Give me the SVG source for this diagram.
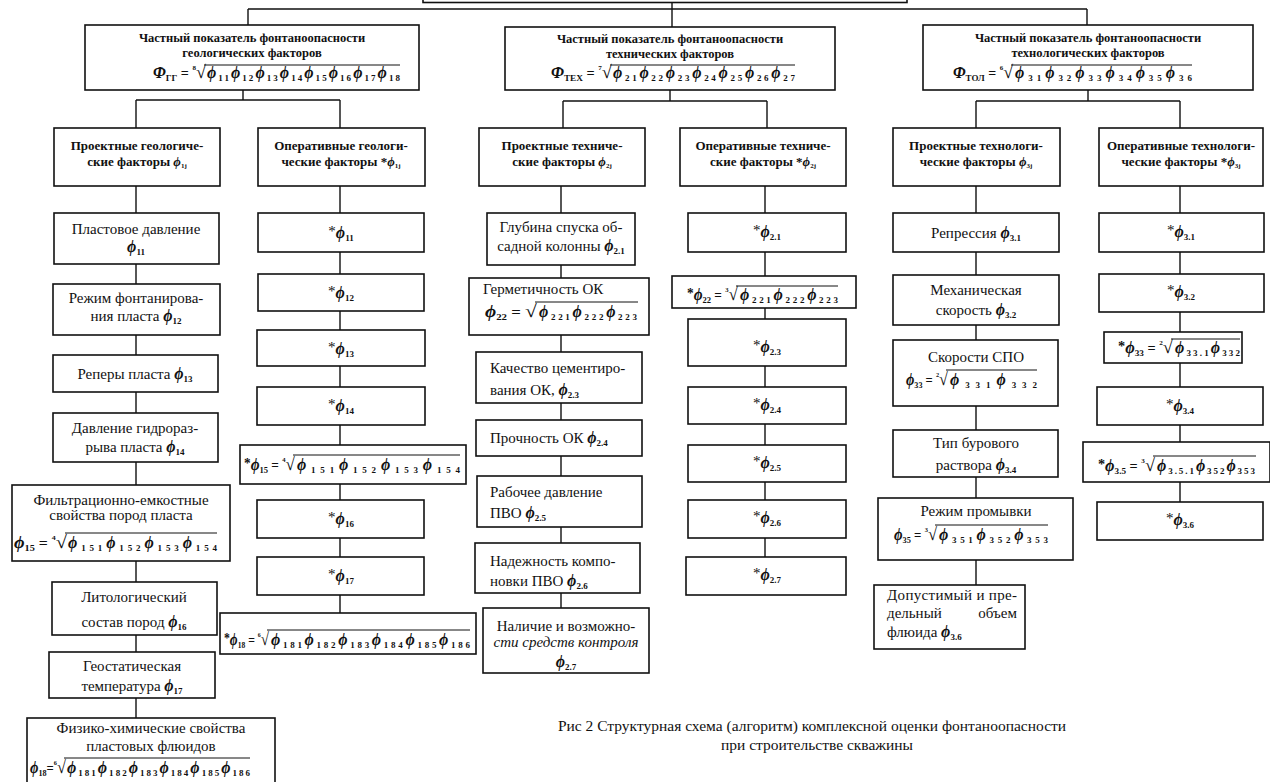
<svg xmlns="http://www.w3.org/2000/svg" width="1270" height="782" viewBox="0 0 1270 782">
<style>
text { font-family: "Liberation Serif", "Times New Roman", serif; fill: #111; }
.box { fill: #fff; stroke: #111; stroke-width: 1.6; }
.conn { stroke: #111; stroke-width: 1.4; fill: none; }
.ov { stroke: #111; stroke-width: 1; }
.t { font-size: 15px; }
.hd { font-size: 13px; font-weight: bold; }
.th { font-size: 12.5px; font-weight: bold; }
.ph { font-style: italic; font-weight: bold; font-size: 16px; }
.hph { font-style: italic; font-weight: bold; font-size: 13px; }
.bph { font-style: italic; font-weight: bold; font-size: 16px; }
.sb { font-size: 9px; font-weight: bold; }
.hsb { font-size: 7px; font-weight: bold; }
.f { font-size: 14px; font-weight: bold; }
.ix { font-size: 7px; font-weight: bold; }
.rt { font-size: 18px; font-weight: normal; }
.it { font-style: italic; }
.cap { font-size: 15.5px; }
</style>

<g id="connectors">
  <path class="conn" d="M672,3 V27 M248,9 H1087 M248,9 V25 M1087,9 V25"/>
  <path class="conn" d="M243,90 V100 M136,100 H340 M136,100 V128 M340,100 V128"/>
  <path class="conn" d="M136,186 V213 M136,264 V284 M136,335 V355 M136,392 V413 M136,462 V485 M136,561 V582 M136,635 V652 M136,698 V718"/>
  <path class="conn" d="M340,186 V213 M340,252 V274 M340,311 V330 M340,366 V387 M340,425 V445 M340,484 V500 M340,538 V557 M340,595 V613"/>
  <path class="conn" d="M670,90 V101 M563,101 H767 M563,101 V128 M767,101 V128"/>
  <path class="conn" d="M561,186 V213 M561,265 V278 M561,335 V352 M561,403 V420 M561,456 V476 M561,527 V543 M561,593 V608"/>
  <path class="conn" d="M765,186 V213 M765,252 V276 M765,308 V319 M765,366 V387 M765,424 V445 M765,482 V500 M765,538 V557"/>
  <path class="conn" d="M1088,90 V101 M976,101 H1180 M976,101 V128 M1180,101 V128"/>
  <path class="conn" d="M976,186 V213 M976,252 V275 M976,325 V340 M976,406 V430 M976,477 V498 M976,560 V585"/>
  <path class="conn" d="M1180,186 V213 M1180,252 V274 M1180,312 V332 M1180,363 V387 M1180,425 V442 M1180,482 V502"/>
</g>

<g id="root"><rect class="box" x="423" y="-20" width="484" height="22.5" stroke-width="2.5"/></g>

<!-- Top level boxes -->
<g id="geo-top">
  <rect class="box" x="85" y="25" width="334" height="65"/>
  <text class="th" x="252" y="42" text-anchor="middle">Частный показатель фонтаноопасности</text>
  <text class="th" x="252" y="57" text-anchor="middle">геологических факторов</text>
  <text class="f" x="153" y="78" textLength="53" lengthAdjust="spacingAndGlyphs"><tspan class="bph">Φ</tspan><tspan class="sb" dy="3">ГГ</tspan><tspan dy="-3"> = </tspan><tspan class="ix" dy="-8">8</tspan><tspan class="rt" dy="8">√</tspan></text>
  <text class="f" x="207" y="78" textLength="193" lengthAdjust="spacing"><tspan class="ph">ϕ</tspan><tspan class="sb" dy="3">11</tspan><tspan class="ph" dy="-3">ϕ</tspan><tspan class="sb" dy="3">12</tspan><tspan class="ph" dy="-3">ϕ</tspan><tspan class="sb" dy="3">13</tspan><tspan class="ph" dy="-3">ϕ</tspan><tspan class="sb" dy="3">14</tspan><tspan class="ph" dy="-3">ϕ</tspan><tspan class="sb" dy="3">15</tspan><tspan class="ph" dy="-3">ϕ</tspan><tspan class="sb" dy="3">16</tspan><tspan class="ph" dy="-3">ϕ</tspan><tspan class="sb" dy="3">17</tspan><tspan class="ph" dy="-3">ϕ</tspan><tspan class="sb" dy="3">18</tspan></text>
  <line class="ov" x1="204" y1="65" x2="400" y2="65"/>
</g>

<g id="tech-top">
  <rect class="box" x="505" y="27" width="330" height="63"/>
  <text class="th" x="670" y="43" text-anchor="middle">Частный показатель фонтаноопасности</text>
  <text class="th" x="670" y="58" text-anchor="middle">технических факторов</text>
  <text class="f" x="551" y="78" textLength="61" lengthAdjust="spacingAndGlyphs"><tspan class="bph">Φ</tspan><tspan class="sb" dy="3">ТЕХ</tspan><tspan dy="-3"> = </tspan><tspan class="ix" dy="-8">7</tspan><tspan class="rt" dy="8">√</tspan></text>
  <text class="f" x="613" y="78" textLength="182" lengthAdjust="spacing"><tspan class="ph">ϕ</tspan><tspan class="sb" dy="3">21</tspan><tspan class="ph" dy="-3">ϕ</tspan><tspan class="sb" dy="3">22</tspan><tspan class="ph" dy="-3">ϕ</tspan><tspan class="sb" dy="3">23</tspan><tspan class="ph" dy="-3">ϕ</tspan><tspan class="sb" dy="3">24</tspan><tspan class="ph" dy="-3">ϕ</tspan><tspan class="sb" dy="3">25</tspan><tspan class="ph" dy="-3">ϕ</tspan><tspan class="sb" dy="3">26</tspan><tspan class="ph" dy="-3">ϕ</tspan><tspan class="sb" dy="3">27</tspan></text>
  <line class="ov" x1="610" y1="65" x2="795" y2="65"/>
</g>

<g id="technol-top">
  <rect class="box" x="923" y="25" width="330" height="65"/>
  <text class="th" x="1088" y="42" text-anchor="middle">Частный показатель фонтаноопасности</text>
  <text class="th" x="1088" y="57" text-anchor="middle">технологических факторов</text>
  <text class="f" x="953" y="78" textLength="60" lengthAdjust="spacingAndGlyphs"><tspan class="bph">Φ</tspan><tspan class="sb" dy="3">ТОЛ</tspan><tspan dy="-3"> = </tspan><tspan class="ix" dy="-8">6</tspan><tspan class="rt" dy="8">√</tspan></text>
  <text class="f" x="1015" y="78" textLength="177" lengthAdjust="spacing"><tspan class="ph">ϕ</tspan><tspan class="sb" dy="3">31</tspan><tspan class="ph" dy="-3">ϕ</tspan><tspan class="sb" dy="3">32</tspan><tspan class="ph" dy="-3">ϕ</tspan><tspan class="sb" dy="3">33</tspan><tspan class="ph" dy="-3">ϕ</tspan><tspan class="sb" dy="3">34</tspan><tspan class="ph" dy="-3">ϕ</tspan><tspan class="sb" dy="3">35</tspan><tspan class="ph" dy="-3">ϕ</tspan><tspan class="sb" dy="3">36</tspan></text>
  <line class="ov" x1="1011" y1="65" x2="1192" y2="65"/>
</g>

<!-- Category boxes -->
<g id="geo-proj-head">
  <rect class="box" x="54" y="128" width="166" height="58"/>
  <text class="hd" x="137" y="150" text-anchor="middle">Проектные геологиче-</text>
  <text class="hd" x="137" y="166" text-anchor="middle">ские факторы <tspan class="hph">ϕ</tspan><tspan class="hsb" dy="2">1j</tspan></text>
</g>
<g id="geo-oper-head">
  <rect class="box" x="258" y="128" width="167" height="58"/>
  <text class="hd" x="341" y="150" text-anchor="middle">Оперативные геологи-</text>
  <text class="hd" x="341" y="166" text-anchor="middle">ческие факторы *<tspan class="hph">ϕ</tspan><tspan class="hsb" dy="2">1j</tspan></text>
</g>
<g id="tech-proj-head">
  <rect class="box" x="479" y="128" width="166" height="58"/>
  <text class="hd" x="562" y="150" text-anchor="middle">Проектные техниче-</text>
  <text class="hd" x="562" y="166" text-anchor="middle">ские факторы <tspan class="hph">ϕ</tspan><tspan class="hsb" dy="2">2j</tspan></text>
</g>
<g id="tech-oper-head">
  <rect class="box" x="680" y="128" width="166" height="58"/>
  <text class="hd" x="763" y="150" text-anchor="middle">Оперативные техниче-</text>
  <text class="hd" x="763" y="166" text-anchor="middle">ские факторы *<tspan class="hph">ϕ</tspan><tspan class="hsb" dy="2">2j</tspan></text>
</g>
<g id="technol-proj-head">
  <rect class="box" x="893" y="128" width="167" height="58"/>
  <text class="hd" x="976" y="150" text-anchor="middle">Проектные технологи-</text>
  <text class="hd" x="976" y="166" text-anchor="middle">ческие факторы <tspan class="hph">ϕ</tspan><tspan class="hsb" dy="2">3j</tspan></text>
</g>
<g id="technol-oper-head">
  <rect class="box" x="1099" y="128" width="164" height="58"/>
  <text class="hd" x="1181" y="150" text-anchor="middle">Оперативные технологи-</text>
  <text class="hd" x="1181" y="166" text-anchor="middle">ческие факторы *<tspan class="hph">ϕ</tspan><tspan class="hsb" dy="2">3j</tspan></text>
</g>

<!-- Geological project column -->
<g id="g11">
  <rect class="box" x="54" y="213" width="165" height="51"/>
  <text class="t" x="136" y="234" text-anchor="middle">Пластовое давление</text>
  <text class="t" x="136" y="252" text-anchor="middle"><tspan class="ph">ϕ</tspan><tspan class="sb" dy="3">11</tspan></text>
</g>
<g id="g12">
  <rect class="box" x="53" y="284" width="167" height="51"/>
  <text class="t" x="136" y="303" text-anchor="middle">Режим фонтанирова-</text>
  <text class="t" x="136" y="321" text-anchor="middle">ния пласта <tspan class="ph">ϕ</tspan><tspan class="sb" dy="3">12</tspan></text>
</g>
<g id="g13">
  <rect class="box" x="53" y="355" width="165" height="37"/>
  <text class="t" x="135" y="379" text-anchor="middle">Реперы пласта <tspan class="ph">ϕ</tspan><tspan class="sb" dy="3">13</tspan></text>
</g>
<g id="g14">
  <rect class="box" x="53" y="413" width="165" height="49"/>
  <text class="t" x="135" y="433" text-anchor="middle">Давление гидрораз-</text>
  <text class="t" x="135" y="452" text-anchor="middle">рыва пласта <tspan class="ph">ϕ</tspan><tspan class="sb" dy="3">14</tspan></text>
</g>
<g id="g15">
  <rect class="box" x="12" y="485" width="218" height="76"/>
  <text class="t" x="121" y="505" text-anchor="middle">Фильтрационно-емкостные</text>
  <text class="t" x="121" y="520" text-anchor="middle">свойства пород пласта</text>
  <text class="f" x="14" y="548" textLength="53" lengthAdjust="spacingAndGlyphs"><tspan class="ph">ϕ</tspan><tspan class="sb" dy="3">15</tspan><tspan dy="-3"> = </tspan><tspan class="ix" dy="-8">4</tspan><tspan class="rt" dy="8">√</tspan></text>
  <text class="f" x="68" y="548" textLength="149" lengthAdjust="spacing"><tspan class="ph">ϕ</tspan><tspan class="sb" dy="3">151</tspan><tspan class="ph" dy="-3">ϕ</tspan><tspan class="sb" dy="3">152</tspan><tspan class="ph" dy="-3">ϕ</tspan><tspan class="sb" dy="3">153</tspan><tspan class="ph" dy="-3">ϕ</tspan><tspan class="sb" dy="3">154</tspan></text>
  <line class="ov" x1="65" y1="533" x2="217" y2="533"/>
</g>
<g id="g16">
  <rect class="box" x="52" y="582" width="165" height="53"/>
  <text class="t" x="134" y="602" text-anchor="middle">Литологический</text>
  <text class="t" x="134" y="627" text-anchor="middle">состав пород <tspan class="ph">ϕ</tspan><tspan class="sb" dy="3">16</tspan></text>
</g>
<g id="g17">
  <rect class="box" x="49" y="652" width="166" height="46"/>
  <text class="t" x="132" y="671" text-anchor="middle">Геостатическая</text>
  <text class="t" x="132" y="691" text-anchor="middle">температура <tspan class="ph">ϕ</tspan><tspan class="sb" dy="3">17</tspan></text>
</g>
<g id="g18">
  <rect class="box" x="27" y="718" width="248" height="66"/>
  <text class="t" x="151" y="733" text-anchor="middle">Физико-химические свойства</text>
  <text class="t" x="151" y="751" text-anchor="middle">пластовых флюидов</text>
  <text class="f" x="30" y="773" textLength="36" lengthAdjust="spacingAndGlyphs"><tspan class="ph">ϕ</tspan><tspan class="sb" dy="3">18</tspan><tspan dy="-3">=</tspan><tspan class="ix" dy="-8">6</tspan><tspan class="rt" dy="8">√</tspan></text>
  <text class="f" x="67" y="773" textLength="183" lengthAdjust="spacing"><tspan class="ph">ϕ</tspan><tspan class="sb" dy="3">181</tspan><tspan class="ph" dy="-3">ϕ</tspan><tspan class="sb" dy="3">182</tspan><tspan class="ph" dy="-3">ϕ</tspan><tspan class="sb" dy="3">183</tspan><tspan class="ph" dy="-3">ϕ</tspan><tspan class="sb" dy="3">184</tspan><tspan class="ph" dy="-3">ϕ</tspan><tspan class="sb" dy="3">185</tspan><tspan class="ph" dy="-3">ϕ</tspan><tspan class="sb" dy="3">186</tspan></text>
  <line class="ov" x1="64" y1="758" x2="250" y2="758"/>
</g>

<!-- Geological operative column -->
<g id="og11"><rect class="box" x="258" y="213" width="166" height="39"/>
  <text class="t" x="341" y="238" text-anchor="middle"><tspan dy="-2">*</tspan><tspan class="ph" dy="2">ϕ</tspan><tspan class="sb" dy="3">11</tspan></text></g>
<g id="og12"><rect class="box" x="258" y="274" width="166" height="37"/>
  <text class="t" x="341" y="298" text-anchor="middle"><tspan dy="-2">*</tspan><tspan class="ph" dy="2">ϕ</tspan><tspan class="sb" dy="3">12</tspan></text></g>
<g id="og13"><rect class="box" x="257" y="330" width="168" height="36"/>
  <text class="t" x="341" y="354" text-anchor="middle"><tspan dy="-2">*</tspan><tspan class="ph" dy="2">ϕ</tspan><tspan class="sb" dy="3">13</tspan></text></g>
<g id="og14"><rect class="box" x="257" y="387" width="168" height="38"/>
  <text class="t" x="341" y="411" text-anchor="middle"><tspan dy="-2">*</tspan><tspan class="ph" dy="2">ϕ</tspan><tspan class="sb" dy="3">14</tspan></text></g>
<g id="og15"><rect class="box" x="240" y="445" width="226" height="39"/>
  <text class="f" x="244" y="470" textLength="51" lengthAdjust="spacingAndGlyphs"><tspan dy="-2">*</tspan><tspan class="ph" dy="2">ϕ</tspan><tspan class="sb" dy="3">15</tspan><tspan dy="-3"> = </tspan><tspan class="ix" dy="-8">4</tspan><tspan class="rt" dy="8">√</tspan></text>
  <text class="f" x="297" y="470" textLength="163" lengthAdjust="spacing"><tspan class="ph">ϕ</tspan><tspan class="sb" dy="3">151</tspan><tspan class="ph" dy="-3">ϕ</tspan><tspan class="sb" dy="3">152</tspan><tspan class="ph" dy="-3">ϕ</tspan><tspan class="sb" dy="3">153</tspan><tspan class="ph" dy="-3">ϕ</tspan><tspan class="sb" dy="3">154</tspan></text>
  <line class="ov" x1="293" y1="455" x2="460" y2="455"/></g>
<g id="og16"><rect class="box" x="257" y="500" width="167" height="38"/>
  <text class="t" x="341" y="524" text-anchor="middle"><tspan dy="-2">*</tspan><tspan class="ph" dy="2">ϕ</tspan><tspan class="sb" dy="3">16</tspan></text></g>
<g id="og17"><rect class="box" x="257" y="557" width="167" height="38"/>
  <text class="t" x="341" y="581" text-anchor="middle"><tspan dy="-2">*</tspan><tspan class="ph" dy="2">ϕ</tspan><tspan class="sb" dy="3">17</tspan></text></g>
<g id="og18"><rect class="box" x="220" y="613" width="256" height="41"/>
  <text class="f" x="224" y="645" textLength="45" lengthAdjust="spacingAndGlyphs"><tspan dy="-2">*</tspan><tspan class="ph" dy="2">ϕ</tspan><tspan class="sb" dy="3">18</tspan><tspan dy="-3"> = </tspan><tspan class="ix" dy="-8">6</tspan><tspan class="rt" dy="8">√</tspan></text>
  <text class="f" x="271" y="645" textLength="199" lengthAdjust="spacing"><tspan class="ph">ϕ</tspan><tspan class="sb" dy="3">181</tspan><tspan class="ph" dy="-3">ϕ</tspan><tspan class="sb" dy="3">182</tspan><tspan class="ph" dy="-3">ϕ</tspan><tspan class="sb" dy="3">183</tspan><tspan class="ph" dy="-3">ϕ</tspan><tspan class="sb" dy="3">184</tspan><tspan class="ph" dy="-3">ϕ</tspan><tspan class="sb" dy="3">185</tspan><tspan class="ph" dy="-3">ϕ</tspan><tspan class="sb" dy="3">186</tspan></text>
  <line class="ov" x1="267" y1="630" x2="470" y2="630"/></g>

<!-- Technical project column -->
<g id="t21"><rect class="box" x="487" y="213" width="148" height="52"/>
  <text class="t" x="561" y="232" text-anchor="middle">Глубина спуска об-</text>
  <text class="t" x="561" y="251" text-anchor="middle">садной колонны <tspan class="ph">ϕ</tspan><tspan class="sb" dy="3">2.1</tspan></text></g>
<g id="t22"><rect class="box" x="469" y="278" width="180" height="57"/>
  <text class="t" x="483" y="294">Герметичность ОК</text>
  <text class="f" x="485" y="317" textLength="52" lengthAdjust="spacingAndGlyphs"><tspan class="ph">ϕ</tspan><tspan class="sb" dy="3">22</tspan><tspan dy="-3"> = </tspan><tspan class="rt">√</tspan></text>
  <text class="f" x="539" y="317" textLength="98" lengthAdjust="spacing"><tspan class="ph">ϕ</tspan><tspan class="sb" dy="3">221</tspan><tspan class="ph" dy="-3">ϕ</tspan><tspan class="sb" dy="3">222</tspan><tspan class="ph" dy="-3">ϕ</tspan><tspan class="sb" dy="3">223</tspan></text>
  <line class="ov" x1="535" y1="302" x2="638" y2="302"/></g>
<g id="t23"><rect class="box" x="476" y="352" width="166" height="51"/>
  <text class="t" x="490" y="373">Качество цементиро-</text>
  <text class="t" x="490" y="395">вания ОК, <tspan class="ph">ϕ</tspan><tspan class="sb" dy="3">2.3</tspan></text></g>
<g id="t24"><rect class="box" x="476" y="420" width="166" height="36"/>
  <text class="t" x="490" y="443">Прочность ОК <tspan class="ph">ϕ</tspan><tspan class="sb" dy="3">2.4</tspan></text></g>
<g id="t25"><rect class="box" x="477" y="476" width="165" height="51"/>
  <text class="t" x="490" y="497">Рабочее давление</text>
  <text class="t" x="490" y="518">ПВО <tspan class="ph">ϕ</tspan><tspan class="sb" dy="3">2.5</tspan></text></g>
<g id="t26"><rect class="box" x="475" y="543" width="165" height="50"/>
  <text class="t" x="490" y="566">Надежность компо-</text>
  <text class="t" x="490" y="586">новки ПВО <tspan class="ph">ϕ</tspan><tspan class="sb" dy="3">2.6</tspan></text></g>
<g id="t27"><rect class="box" x="483" y="608" width="166" height="65"/>
  <text class="t" x="566" y="631" text-anchor="middle">Наличие и возможно-</text>
  <text class="t it" x="566" y="647" text-anchor="middle">сти средств контроля</text>
  <text class="t" x="566" y="667" text-anchor="middle"><tspan class="ph">ϕ</tspan><tspan class="sb" dy="3">2.7</tspan></text></g>

<!-- Technical operative column -->
<g id="ot21"><rect class="box" x="688" y="213" width="158" height="39"/>
  <text class="t" x="767" y="237" text-anchor="middle"><tspan dy="-2">*</tspan><tspan class="ph" dy="2">ϕ</tspan><tspan class="sb" dy="3">2.1</tspan></text></g>
<g id="ot22"><rect class="box" x="672" y="276" width="184" height="32"/>
  <text class="f" x="687" y="300" textLength="51" lengthAdjust="spacingAndGlyphs"><tspan dy="-2">*</tspan><tspan class="ph" dy="2">ϕ</tspan><tspan class="sb" dy="3">22</tspan><tspan dy="-3"> = </tspan><tspan class="ix" dy="-8">3</tspan><tspan class="rt" dy="8">√</tspan></text>
  <text class="f" x="740" y="300" textLength="98" lengthAdjust="spacing"><tspan class="ph">ϕ</tspan><tspan class="sb" dy="3">221</tspan><tspan class="ph" dy="-3">ϕ</tspan><tspan class="sb" dy="3">222</tspan><tspan class="ph" dy="-3">ϕ</tspan><tspan class="sb" dy="3">223</tspan></text>
  <line class="ov" x1="736" y1="286" x2="838" y2="286"/></g>
<g id="ot23"><rect class="box" x="688" y="319" width="158" height="47"/>
  <text class="t" x="767" y="352" text-anchor="middle"><tspan dy="-2">*</tspan><tspan class="ph" dy="2">ϕ</tspan><tspan class="sb" dy="3">2.3</tspan></text></g>
<g id="ot24"><rect class="box" x="688" y="387" width="158" height="37"/>
  <text class="t" x="767" y="410" text-anchor="middle"><tspan dy="-2">*</tspan><tspan class="ph" dy="2">ϕ</tspan><tspan class="sb" dy="3">2.4</tspan></text></g>
<g id="ot25"><rect class="box" x="688" y="445" width="158" height="37"/>
  <text class="t" x="767" y="468" text-anchor="middle"><tspan dy="-2">*</tspan><tspan class="ph" dy="2">ϕ</tspan><tspan class="sb" dy="3">2.5</tspan></text></g>
<g id="ot26"><rect class="box" x="688" y="500" width="158" height="38"/>
  <text class="t" x="767" y="523" text-anchor="middle"><tspan dy="-2">*</tspan><tspan class="ph" dy="2">ϕ</tspan><tspan class="sb" dy="3">2.6</tspan></text></g>
<g id="ot27"><rect class="box" x="686" y="557" width="160" height="38"/>
  <text class="t" x="767" y="580" text-anchor="middle"><tspan dy="-2">*</tspan><tspan class="ph" dy="2">ϕ</tspan><tspan class="sb" dy="3">2.7</tspan></text></g>

<!-- Technological project column -->
<g id="p31"><rect class="box" x="893" y="213" width="166" height="39"/>
  <text class="t" x="976" y="238" text-anchor="middle">Репрессия <tspan class="ph">ϕ</tspan><tspan class="sb" dy="3">3.1</tspan></text></g>
<g id="p32"><rect class="box" x="893" y="275" width="166" height="50"/>
  <text class="t" x="976" y="295" text-anchor="middle">Механическая</text>
  <text class="t" x="976" y="315" text-anchor="middle">скорость <tspan class="ph">ϕ</tspan><tspan class="sb" dy="3">3.2</tspan></text></g>
<g id="p33"><rect class="box" x="893" y="340" width="165" height="66"/>
  <text class="t" x="976" y="362" text-anchor="middle">Скорости СПО</text>
  <text class="f" x="906" y="385" textLength="42" lengthAdjust="spacingAndGlyphs"><tspan class="ph">ϕ</tspan><tspan class="sb" dy="3">33</tspan><tspan dy="-3"> = </tspan><tspan class="ix" dy="-8">2</tspan><tspan class="rt" dy="8">√</tspan></text>
  <text class="f" x="950" y="385" textLength="87" lengthAdjust="spacing"><tspan class="ph">ϕ</tspan><tspan class="sb" dy="3">331</tspan><tspan class="ph" dy="-3">ϕ</tspan><tspan class="sb" dy="3">332</tspan></text>
  <line class="ov" x1="946" y1="370" x2="1037" y2="370"/></g>
<g id="p34"><rect class="box" x="893" y="430" width="165" height="47"/>
  <text class="t" x="976" y="448" text-anchor="middle">Тип бурового</text>
  <text class="t" x="976" y="470" text-anchor="middle">раствора <tspan class="ph">ϕ</tspan><tspan class="sb" dy="3">3.4</tspan></text></g>
<g id="p35"><rect class="box" x="878" y="498" width="195" height="62"/>
  <text class="t" x="976" y="516" text-anchor="middle">Режим промывки</text>
  <text class="f" x="894" y="540" textLength="43" lengthAdjust="spacingAndGlyphs"><tspan class="ph">ϕ</tspan><tspan class="sb" dy="3">35</tspan><tspan dy="-3"> = </tspan><tspan class="ix" dy="-8">3</tspan><tspan class="rt" dy="8">√</tspan></text>
  <text class="f" x="939" y="540" textLength="109" lengthAdjust="spacing"><tspan class="ph">ϕ</tspan><tspan class="sb" dy="3">351</tspan><tspan class="ph" dy="-3">ϕ</tspan><tspan class="sb" dy="3">352</tspan><tspan class="ph" dy="-3">ϕ</tspan><tspan class="sb" dy="3">353</tspan></text>
  <line class="ov" x1="935" y1="525" x2="1048" y2="525"/></g>
<g id="p36"><rect class="box" x="874" y="585" width="151" height="64"/>
  <text class="t" x="887" y="600" textLength="130" lengthAdjust="spacing">Допустимый и пре-</text>
  <text class="t" x="887" y="618">дельный</text>
  <text class="t" x="1017" y="618" text-anchor="end">объем</text>
  <text class="t" x="887" y="637">флюида <tspan class="ph">ϕ</tspan><tspan class="sb" dy="3">3.6</tspan></text></g>

<!-- Technological operative column -->
<g id="o31"><rect class="box" x="1099" y="213" width="165" height="39"/>
  <text class="t" x="1181" y="237" text-anchor="middle"><tspan dy="-2">*</tspan><tspan class="ph" dy="2">ϕ</tspan><tspan class="sb" dy="3">3.1</tspan></text></g>
<g id="o32"><rect class="box" x="1099" y="274" width="165" height="38"/>
  <text class="t" x="1181" y="297" text-anchor="middle"><tspan dy="-2">*</tspan><tspan class="ph" dy="2">ϕ</tspan><tspan class="sb" dy="3">3.2</tspan></text></g>
<g id="o33"><rect class="box" x="1104" y="332" width="138" height="31"/>
  <text class="f" x="1118" y="353" textLength="55" lengthAdjust="spacingAndGlyphs"><tspan dy="-2">*</tspan><tspan class="ph" dy="2">ϕ</tspan><tspan class="sb" dy="3">33</tspan><tspan dy="-3"> = </tspan><tspan class="ix" dy="-8">2</tspan><tspan class="rt" dy="8">√</tspan></text>
  <text class="f" x="1175" y="353" textLength="65" lengthAdjust="spacing"><tspan class="ph">ϕ</tspan><tspan class="sb" dy="3">33.1</tspan><tspan class="ph" dy="-3">ϕ</tspan><tspan class="sb" dy="3">332</tspan></text>
  <line class="ov" x1="1171" y1="339" x2="1240" y2="339"/></g>
<g id="o34"><rect class="box" x="1097" y="387" width="166" height="38"/>
  <text class="t" x="1180" y="411" text-anchor="middle"><tspan dy="-2">*</tspan><tspan class="ph" dy="2">ϕ</tspan><tspan class="sb" dy="3">3.4</tspan></text></g>
<g id="o35"><rect class="box" x="1083" y="442" width="187" height="40"/>
  <text class="f" x="1098" y="471" textLength="57" lengthAdjust="spacingAndGlyphs"><tspan dy="-2">*</tspan><tspan class="ph" dy="2">ϕ</tspan><tspan class="sb" dy="3">3.5</tspan><tspan dy="-3"> = </tspan><tspan class="ix" dy="-8">3</tspan><tspan class="rt" dy="8">√</tspan></text>
  <text class="f" x="1157" y="471" textLength="98" lengthAdjust="spacing"><tspan class="ph">ϕ</tspan><tspan class="sb" dy="3">3.5.1</tspan><tspan class="ph" dy="-3">ϕ</tspan><tspan class="sb" dy="3">352</tspan><tspan class="ph" dy="-3">ϕ</tspan><tspan class="sb" dy="3">353</tspan></text>
  <line class="ov" x1="1153" y1="456" x2="1256" y2="456"/></g>
<g id="o36"><rect class="box" x="1097" y="502" width="166" height="38"/>
  <text class="t" x="1180" y="525" text-anchor="middle"><tspan dy="-2">*</tspan><tspan class="ph" dy="2">ϕ</tspan><tspan class="sb" dy="3">3.6</tspan></text></g>

<g id="caption">
  <text class="cap" x="812" y="731" text-anchor="middle">Рис 2  Структурная схема (алгоритм) комплексной оценки фонтаноопасности</text>
  <text class="cap" x="817" y="750" text-anchor="middle">при строительстве скважины</text>
</g>
</svg>
